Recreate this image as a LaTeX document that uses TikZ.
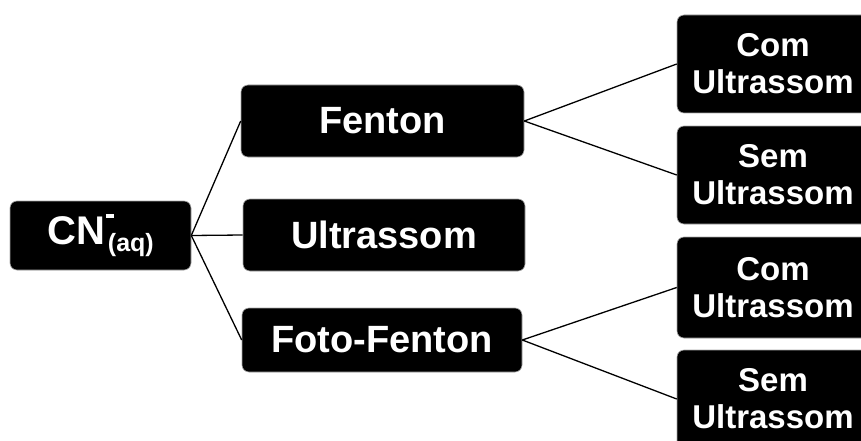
\documentclass[tikz,border=0pt]{standalone}
\usepackage{fontspec}
\setmainfont{Liberation Sans}
\begin{document}
\begin{tikzpicture}[x=1pt,y=-1pt,
  box/.style={draw=gray!70, line width=0.6pt, fill=black, rounded corners=7pt,
    text=white, font=\bfseries\fontsize{38}{40}\selectfont, inner sep=0pt,
    align=center},
  leaf/.style={box, font=\bfseries\fontsize{33}{37}\selectfont,
    minimum width=192pt},
  link/.style={draw=black, line width=1.3pt}]
\useasboundingbox (0,0) rectangle (861,441);
\begin{scope}
\clip (0,0) rectangle (861,441);
% root: cyanide ion, aqueous (charge sign set as a short bar)
\node[box, minimum width=181pt, minimum height=69pt] (cn) at (100.5,235.5)
  {\fontsize{40}{40}\selectfont CN\rlap{\kern1pt\raisebox{27pt}{\rule{8pt}{3.2pt}}}\kern3pt\raisebox{-7pt}{\fontsize{25}{25}\selectfont (aq)}};
% processes
\node[box, minimum width=283pt, minimum height=72pt] (fenton) at (382.5,121) {Fenton};
\node[box, minimum width=282pt, minimum height=72pt] (ultra) at (384,235) {Ultrassom};
\node[box, minimum width=280pt, minimum height=64pt] (foto) at (382,340) {Foto-Fenton};
% variants
\node[leaf, minimum height=98pt] (f1) at (773,64) {Com\\Ultrassom};
\node[leaf, minimum height=98pt] (f2) at (773,175) {Sem\\Ultrassom};
\node[leaf, minimum height=101pt] (p1) at (773,287.5) {Com\\Ultrassom};
\node[leaf, minimum height=98pt] (p2) at (773,399) {Sem\\Ultrassom};
% connectors
\draw[link] (cn.east) -- (fenton.west);
\draw[link] (cn.east) -- (ultra.west);
\draw[link] (cn.east) -- (foto.west);
\draw[link] (fenton.east) -- (f1.west);
\draw[link] (fenton.east) -- (f2.west);
\draw[link] (foto.east) -- (p1.west);
\draw[link] (foto.east) -- (p2.west);
\end{scope}
\end{tikzpicture}
\end{document}
